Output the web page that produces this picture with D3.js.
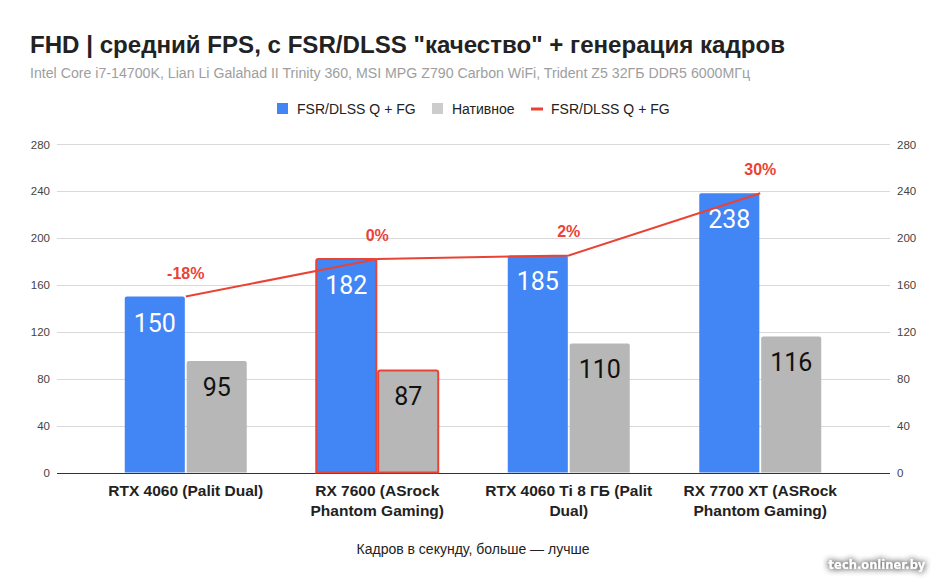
<!DOCTYPE html>
<html><head><meta charset="utf-8">
<script src="https://cdn.jsdelivr.net/npm/d3@7"></script>
<style>body{margin:0;background:#fff}svg{display:block}</style>
</head><body>
<svg id="c" width="947" height="585"></svg>
<script>
const categories = [["RTX 4060 (Palit Dual)"], ["RX 7600 (ASrock", "Phantom Gaming)"], ["RTX 4060 Ti 8 ГБ (Palit", "Dual)"], ["RX 7700 XT (ASRock", "Phantom Gaming)"]];
const fgValues = [150, 182, 185, 238];
const nativeValues = [95, 87, 110, 116];
const lineValues = [150, 182, 185, 238];
const lineLabels = ["-18%", "0%", "2%", "30%"];
const highlighted = [false, true, false, false];
const yTicks = [0, 40, 80, 120, 160, 200, 240, 280];
const seriesNames = ["FSR/DLSS Q + FG", "Нативное", "FSR/DLSS Q + FG"];

const BLUE = "#4285f4", GRAY = "#b7b7b7", RED = "#ea4335";
const svg = d3.select("#c");
const AF = "'Liberation Sans', Arial, sans-serif";

const x0 = d3.scaleBand().domain(d3.range(categories.length)).range([90, 856]).paddingInner(0.363).paddingOuter(0.1815);
const x1 = d3.scaleBand().domain([0, 1]).range([0, x0.bandwidth()]).paddingInner(0.03);
const y = d3.scaleLinear().domain([0, 280]).range([472.5, 144]);

// title
svg.append("text").attr("x", 30).attr("y", 53).attr("font-family", AF).attr("font-weight", "bold").attr("font-size", 24.5).attr("fill", "#222")
  .attr("textLength", 755).attr("lengthAdjust", "spacingAndGlyphs")
  .text('FHD | средний FPS, с FSR/DLSS "качество" + генерация кадров');
svg.append("text").attr("x", 30).attr("y", 78).attr("font-family", AF).attr("font-size", 14).attr("fill", "#9e9e9e")
  .attr("textLength", 720).attr("lengthAdjust", "spacingAndGlyphs")
  .text("Intel Core i7-14700K, Lian Li Galahad II Trinity 360, MSI MPG Z790 Carbon WiFi, Trident Z5 32ГБ DDR5 6000МГц");

// legend
const lg = svg.append("g").attr("font-family", AF).attr("font-size", 14).attr("fill", "#222");
lg.append("rect").attr("x", 277).attr("y", 103).attr("width", 11).attr("height", 11).attr("fill", BLUE);
lg.append("text").attr("x", 297).attr("y", 114).text(seriesNames[0]);
lg.append("rect").attr("x", 432).attr("y", 103).attr("width", 11).attr("height", 11).attr("fill", "#cccccc");
lg.append("text").attr("x", 452).attr("y", 114).text(seriesNames[1]);
lg.append("rect").attr("x", 531).attr("y", 107.5).attr("width", 12).attr("height", 3).attr("fill", RED);
lg.append("text").attr("x", 551).attr("y", 114).text(seriesNames[2]);

// gridlines & axes
const grid = svg.append("g");
yTicks.forEach(t => {
  grid.append("line").attr("x1", 57).attr("x2", 890).attr("y1", Math.round(y(t)) + 0.5).attr("y2", Math.round(y(t)) + 0.5)
    .attr("stroke", t === 0 ? "#333" : "#d9d9d9").attr("stroke-width", 1);
});
const yl = d3.axisLeft(y).tickValues(yTicks).tickSize(0).tickPadding(0);
const gl = svg.append("g").attr("transform", "translate(50,0)").call(yl);
const yr = d3.axisRight(y).tickValues(yTicks).tickSize(0).tickPadding(0);
const gr = svg.append("g").attr("transform", "translate(897,0)").call(yr);
[gl, gr].forEach(g => {
  g.select(".domain").remove();
  g.selectAll("text").attr("font-family", AF).attr("font-size", 11.5).attr("fill", "#444").attr("dy", "0.35em");
});

// bars
function barPath(x, yTop, w, h, r) {
  return `M${x},${yTop + h}V${yTop + r}Q${x},${yTop} ${x + r},${yTop}H${x + w - r}Q${x + w},${yTop} ${x + w},${yTop + r}V${yTop + h}Z`;
}
const groups = svg.append("g").selectAll("g").data(categories).join("g")
  .attr("transform", (d, i) => `translate(${x0(i)},0)`);
groups.each(function (d, i) {
  const g = d3.select(this);
  const vals = [fgValues[i], nativeValues[i]];
  vals.forEach((v, k) => {
    const bx = x1(k), bw = x1.bandwidth(), top = y(v), h = y(0) - y(v);
    g.append("path").attr("d", barPath(bx, top, bw, h, 2))
      .attr("fill", k === 0 ? BLUE : GRAY)
      .attr("stroke", highlighted[i] ? RED : "none").attr("stroke-width", highlighted[i] ? 2 : 0);
    g.append("text").attr("x", bx + bw / 2).attr("y", top + 35).attr("text-anchor", "middle")
      .attr("font-family", "Roboto, sans-serif").attr("font-size", 25)
      .attr("fill", k === 0 ? "#fff" : "#111").text(v);
  });
});

// line
const cx = i => x0(i) + x0.bandwidth() / 2;
svg.append("path").datum(lineValues)
  .attr("d", d3.line().x((d, i) => cx(i)).y(d => y(d)))
  .attr("fill", "none").attr("stroke", RED).attr("stroke-width", 2);
svg.append("g").selectAll("text").data(lineLabels).join("text")
  .attr("x", (d, i) => cx(i)).attr("y", (d, i) => y(lineValues[i]) - 18)
  .attr("text-anchor", "middle").attr("font-family", AF).attr("font-weight", "bold").attr("font-size", 16)
  .attr("fill", RED).text(d => d);

// x labels
const xl = svg.append("g").attr("font-family", AF).attr("font-weight", "bold").attr("font-size", 15.5).attr("fill", "#222");
categories.forEach((lines, i) => {
  lines.forEach((ln, j) => {
    xl.append("text").attr("x", cx(i)).attr("y", 496 + j * 20).attr("text-anchor", "middle").text(ln);
  });
});
svg.append("text").attr("x", 473).attr("y", 554).attr("text-anchor", "middle").attr("font-family", AF).attr("font-size", 14).attr("fill", "#222")
  .text("Кадров в секунду, больше — лучше");

// watermark
const defs = svg.append("defs");
const f = defs.append("filter").attr("id", "sh").attr("x", "-20%").attr("y", "-50%").attr("width", "140%").attr("height", "200%");
f.append("feGaussianBlur").attr("in", "SourceAlpha").attr("stdDeviation", 3).attr("result", "b");
f.append("feFlood").attr("flood-color", "#555").attr("flood-opacity", 1);
f.append("feComposite").attr("in2", "b").attr("operator", "in").attr("result", "s");
const fm = f.append("feMerge");
fm.append("feMergeNode").attr("in", "s");
fm.append("feMergeNode").attr("in", "s");
fm.append("feMergeNode").attr("in", "SourceGraphic");
svg.append("text").attr("x", 877).attr("y", 569).attr("text-anchor", "middle").attr("font-family", "'DejaVu Sans', sans-serif")
  .attr("font-weight", "bold").attr("font-size", 11.5).attr("fill", "#fff").attr("filter", "url(#sh)").text("tech.onliner.by");
</script>
</body></html>
